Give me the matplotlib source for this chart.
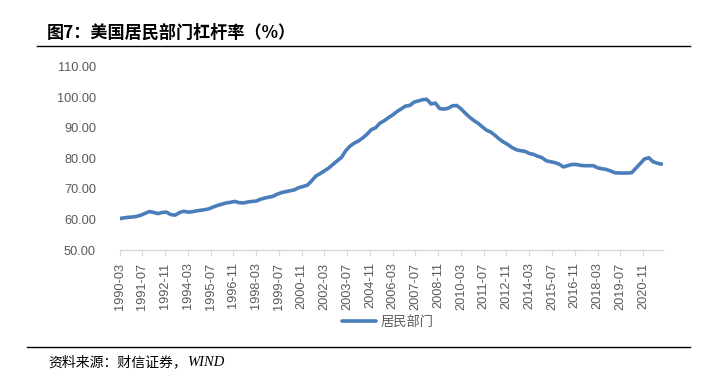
import numpy as np
import pandas as pd
import matplotlib
matplotlib.use("Agg")
import matplotlib.pyplot as plt
from matplotlib.lines import Line2D

plt.rcParams['font.family'] = ['Liberation Sans', 'Noto Sans CJK SC', 'DejaVu Sans']

# ---- data ----
title = "图7：美国居民部门杠杆率（%）"
source_cn = "资料来源：财信证券，"
source_en = "WIND"
series_name = "居民部门"
periods = pd.period_range("1990-03", "2021-12", freq="3M")
values = [
    60.3, 60.5, 60.7, 60.8, 61.0, 61.4, 62.0, 62.6, 62.3, 61.9,
    62.3, 62.4, 61.6, 61.4, 62.2, 62.7, 62.4, 62.5, 62.8, 63.0,
    63.2, 63.5, 64.1, 64.6, 65.0, 65.4, 65.6, 65.9, 65.5, 65.4,
    65.7, 65.9, 66.0, 66.6, 67.0, 67.3, 67.6, 68.3, 68.8, 69.1,
    69.4, 69.7, 70.4, 70.8, 71.2, 72.6, 74.2, 75.0, 75.9, 76.8,
    78.0, 79.2, 80.3, 82.5, 84.0, 85.0, 85.7, 86.7, 87.9, 89.4,
    90.0, 91.5, 92.3, 93.3, 94.2, 95.3, 96.2, 97.1, 97.3, 98.4,
    98.8, 99.2, 99.3, 97.8, 98.1, 96.3, 96.1, 96.4, 97.2, 97.3,
    96.2, 94.8, 93.5, 92.4, 91.5, 90.3, 89.2, 88.6, 87.5, 86.3,
    85.3, 84.5, 83.5, 82.8, 82.5, 82.3, 81.6, 81.3, 80.7, 80.2,
    79.2, 78.9, 78.6, 78.1, 77.2, 77.6, 78.0, 78.0, 77.7, 77.6,
    77.6, 77.6, 76.9, 76.6, 76.4, 75.9, 75.3, 75.2, 75.2, 75.2,
    75.3, 76.8, 78.3, 79.8, 80.2, 78.9, 78.4, 78.1,
]
tick_labels = ["1990-03", "1991-07", "1992-11", "1994-03", "1995-07", "1996-11",
               "1998-03", "1999-07", "2000-11", "2002-03", "2003-07", "2004-11",
               "2006-03", "2007-07", "2008-11", "2010-03", "2011-07", "2012-11",
               "2014-03", "2015-07", "2016-11", "2018-03", "2019-07", "2020-11"]
yticks = [50, 60, 70, 80, 90, 100, 110]

# ---- positions (months since first period) ----
start = pd.Period("1990-03", freq="M")
def month_offset(label):
    p = pd.Period(label, freq="M")
    return (p.year - start.year) * 12 + (p.month - start.month)

x = np.array([month_offset(p.to_timestamp().strftime("%Y-%m")) for p in periods])
xt = [month_offset(l) for l in tick_labels]

W, H = 711, 376
fig = plt.figure(figsize=(W / 100, H / 100), dpi=100)
L, R, B, T = 119.5, 663, 250, 66.7
ax = fig.add_axes([L / W, 1 - B / H, (R - L) / W, (B - T) / H])

line_color = "#4A7EBB"
ax.plot(x, values, color=line_color, lw=2.6, solid_capstyle="round",
        solid_joinstyle="round", label=series_name)

ax.set_xlim(0, x[-1] + 1)
ax.set_ylim(50, 110)
ax.set_yticks(yticks)
ax.set_yticklabels([f"{v:.2f}" for v in yticks])
ax.set_xticks(xt)
ax.set_xticklabels(tick_labels, rotation=90)

for s in ["top", "right", "left"]:
    ax.spines[s].set_visible(False)
ax.spines["bottom"].set_color("#d9d9d9")
ax.spines["bottom"].set_linewidth(1.0)

ax.tick_params(axis="y", length=0, pad=17, labelsize=9.2, labelcolor="#595959")
ax.tick_params(axis="x", length=4, width=0.8, color="#d9d9d9", pad=5,
               labelsize=9.2, labelcolor="#595959")

leg = fig.legend(loc="center", bbox_to_anchor=(388 / W, 1 - 322 / H), frameon=False,
                 prop={"family": ["Noto Sans CJK SC"], "size": 9.5},
                 handlelength=2.6, handletextpad=0.35)
for t in leg.get_texts():
    t.set_color("#595959")

# title and lines
fig.text(47 / W, 1 - 33 / H, title, fontsize=12.3, fontweight="bold",
         family=["Noto Sans CJK SC", "DejaVu Sans"], va="center", ha="left", color="black")
fig.add_artist(Line2D([37 / W, 690 / W], [1 - 46 / H, 1 - 46 / H], color="black", lw=1.0))
fig.add_artist(Line2D([27 / W, 690 / W], [1 - 347 / H, 1 - 347 / H], color="black", lw=1.0))
t1 = fig.text(48 / W, 1 - 362 / H, source_cn, fontsize=10,
              family=["Noto Sans CJK SC", "DejaVu Sans"], va="center", ha="left", color="black")
fig.canvas.draw()
bb = t1.get_window_extent()
fig.text(bb.x1 / W, 1 - 362 / H, source_en, fontsize=10.5, style="italic",
         family=["Liberation Serif"], va="center", ha="left", color="black")

fig.savefig("out.png", dpi=100)
